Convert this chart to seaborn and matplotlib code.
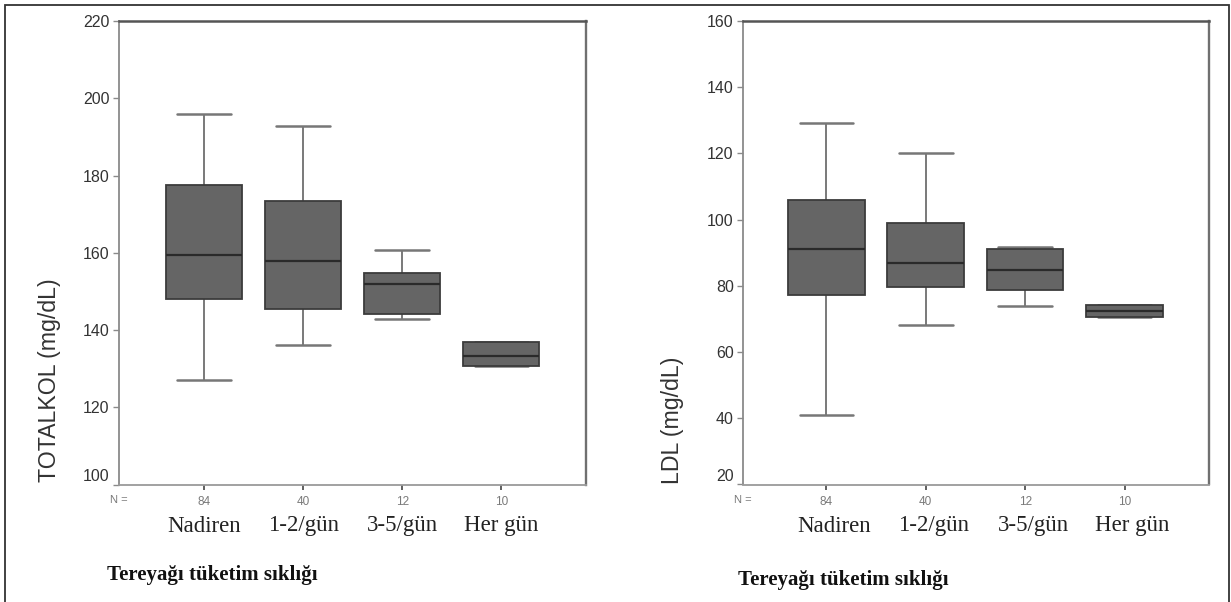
import numpy as np
import pandas as pd
import matplotlib
matplotlib.use("Agg")
import matplotlib.pyplot as plt
import seaborn as sns
from matplotlib.patches import Rectangle
from matplotlib.transforms import ScaledTranslation, blended_transform_factory

# ---------------- data ----------------
categories = ["Nadiren", "1-2/gün", "3-5/gün", "Her gün"]
n_counts = ["84", "40", "12", "10"]

# TOTALKOL (mg/dL): five-number summaries per group
totalkol_min = [127.0, 136.2, 142.8, 130.8]
totalkol_q1 = [148.0, 145.4, 144.1, 130.8]
totalkol_median = [159.4, 157.9, 151.9, 133.2]
totalkol_q3 = [177.6, 173.3, 154.8, 137.0]
totalkol_max = [196.0, 192.9, 160.7, 137.0]

# LDL (mg/dL)
ldl_min = [40.9, 68.2, 74.0, 70.7]
ldl_q1 = [77.2, 79.8, 78.7, 70.7]
ldl_median = [91.2, 87.0, 84.9, 72.3]
ldl_q3 = [105.9, 99.1, 91.2, 74.1]
ldl_max = [129.1, 120.1, 91.7, 74.1]

totalkol_ticks = [100, 120, 140, 160, 180, 200, 220]
ldl_ticks = [20, 40, 60, 80, 100, 120, 140, 160]

xlabel_text = "Tereyağı tüketim sıklığı"
totalkol_ylabel = "TOTALKOL (mg/dL)"
ldl_ylabel = "LDL (mg/dL)"
n_label = "N ="

# ---------------- style ----------------
W, H = 1231, 602
BOX_FILL = "#656565"
BOX_EDGE = "#3b3b3b"
MEDIAN_C = "#2a2a2a"
WHISK_C = "#555555"
CAP_C = "#777777"
SANS = ["Liberation Sans", "DejaVu Sans"]
SERIF = ["Liberation Serif", "DejaVu Serif"]

sns.set_style("white")
plt.rcParams["font.family"] = SANS


def long_frame(mins, q1s, meds, q3s, maxs):
    rows = []
    for cat, a, b, c, d, e in zip(categories, mins, q1s, meds, q3s, maxs):
        for v in (a, b, c, d, e):
            rows.append({"group": cat, "value": v})
    return pd.DataFrame(rows)


fig = plt.figure(figsize=(W / 100, H / 100), dpi=100)
fig.patch.set_facecolor("white")


def px_x(x):
    return x / W


def px_y(y):
    return 1 - y / H


ax_l = fig.add_axes([px_x(118.6), px_y(484.5), (586 - 118.6) / W, (484.5 - 21) / H])
ax_r = fig.add_axes([px_x(742.7), px_y(484.5), (1209 - 742.7) / W, (484.5 - 21) / H])

panels = [
    dict(ax=ax_l, stats=(totalkol_min, totalkol_q1, totalkol_median, totalkol_q3, totalkol_max),
         ticks=totalkol_ticks, ylabel=totalkol_ylabel, xlim=(-0.862, 3.855),
         ylab_xy=(-0.148, 0.2255), cat_shift=0.0, cat_y=526, xlab_pos=(107, 575)),
    dict(ax=ax_r, stats=(ldl_min, ldl_q1, ldl_median, ldl_q3, ldl_max),
         ticks=ldl_ticks, ylabel=ldl_ylabel, xlim=(-0.842, 3.85),
         ylab_xy=(-0.1516, 0.139), cat_shift=0.08, cat_y=526, xlab_pos=(738, 580)),
]

for p in panels:
    ax = p["ax"]
    df = long_frame(*p["stats"])
    sns.boxplot(
        data=df, x="group", y="value", order=categories, ax=ax,
        whis=(0, 100), width=0.77, color=BOX_FILL, saturation=1,
        linecolor=BOX_EDGE, linewidth=1.3, showfliers=False,
        capwidths=0.54,
        boxprops=dict(facecolor=BOX_FILL, edgecolor=BOX_EDGE, linewidth=1.3, zorder=3),
        medianprops=dict(color=MEDIAN_C, linewidth=1.6, zorder=4),
        whiskerprops=dict(color=WHISK_C, linewidth=1.1, zorder=2),
        capprops=dict(color=CAP_C, linewidth=1.8, zorder=2),
    )
    ax.set_xlim(*p["xlim"])
    ax.set_ylim(p["ticks"][0], p["ticks"][-1])
    ax.set_yticks(p["ticks"])
    ax.set_yticklabels([str(t) for t in p["ticks"]])
    ax.set_xticks(range(len(categories)))
    ax.set_xticklabels(n_counts)
    ax.set_xlabel("")
    ax.set_facecolor("white")

    ax.tick_params(axis="y", direction="out", length=4, width=1.0, color="#8a8a8a",
                   labelsize=11.5, labelcolor="#333333", pad=2.5, left=True)
    ax.tick_params(axis="x", direction="out", length=3.5, width=1.2, color="#444444",
                   labelsize=8.5, labelcolor="#7a7a7a", pad=5, bottom=True)

    for side, col, lw in [("top", "#555555", 1.8), ("right", "#707070", 1.7),
                          ("left", "#8a8a8a", 1.3), ("bottom", "#9a9a9a", 1.3)]:
        ax.spines[side].set_visible(True)
        ax.spines[side].set_color(col)
        ax.spines[side].set_linewidth(lw)

    # lowest y tick label is drawn slightly raised, as in the reference
    lbl = ax.get_yticklabels()[0]
    lbl.set_transform(lbl.get_transform() + ScaledTranslation(0, 0.095, fig.dpi_scale_trans))

    ax.set_ylabel(p["ylabel"], fontsize=16.7, color="#333333", va="center")
    ax.yaxis.set_label_coords(*p["ylab_xy"])

    # "N =" marker at the left of the count row
    trans_n = blended_transform_factory(ax.transAxes, fig.transFigure)
    ax.text(0.0, px_y(500), n_label, transform=trans_n, ha="center", va="center",
            fontsize=8, color="#7a7a7a")

    # category names in serif under the counts
    trans_c = blended_transform_factory(ax.transData, fig.transFigure)
    for i, cat in enumerate(categories):
        ax.text(i + p["cat_shift"], px_y(p["cat_y"]), cat, transform=trans_c,
                ha="center", va="center", fontsize=16.5, family=SERIF, color="#222222")

    fig.text(px_x(p["xlab_pos"][0]), px_y(p["xlab_pos"][1]), xlabel_text,
             ha="left", va="center", fontsize=15, fontweight="bold", family=SERIF,
             color="#111111")

# outer frame of the figure (top, left, right edges)
frame = Rectangle((px_x(4.5), -0.1), (1228.5 - 4.5) / W, 1 - 4.5 / H + 0.1,
                  transform=fig.transFigure, fill=False, edgecolor="#333333", linewidth=1.3)
fig.add_artist(frame)

fig.savefig("out.png", dpi=100)
